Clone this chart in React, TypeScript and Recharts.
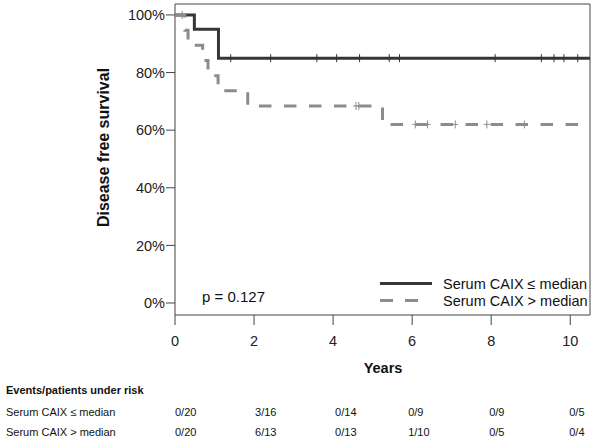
import React from 'react';
import { ComposedChart, Line, Scatter, XAxis, YAxis, ReferenceArea } from 'recharts';

// Kaplan-Meier step data (years, survival fraction)
const lowTimes = [0, 0.49, 1.1, 10.5];
const lowSurv = [1, 0.95, 0.85, 0.85];
const highTimes = [0, 0.25, 0.33, 0.7, 0.835, 1.09, 1.84, 5.25, 10.5];
const highSurv = [1, 0.947, 0.895, 0.842, 0.789, 0.737, 0.684, 0.62, 0.62];

// Censoring marks
const lowCensorTimes = [1.41, 2.42, 3.59, 4.09, 4.67, 5.42, 5.68, 8.1, 9.27, 9.59, 9.84, 10.19];
const lowCensorSurv = [0.85, 0.85, 0.85, 0.85, 0.85, 0.85, 0.85, 0.85, 0.85, 0.85, 0.85, 0.85];
const highCensorTimes = [0.18, 4.58, 4.65, 6.08, 6.39, 7.09, 7.89, 8.84];
const highCensorSurv = [1, 0.684, 0.684, 0.62, 0.62, 0.62, 0.62, 0.62];

const xTicks = [0, 2, 4, 6, 8, 10];
const yTicks = [0, 0.2, 0.4, 0.6, 0.8, 1];
const seriesNames = ['Serum CAIX \u2264 median', 'Serum CAIX > median'];
const riskTimes = [0, 2, 4, 6, 8, 10];
const riskLow = ['0/20', '3/16', '0/14', '0/9', '0/9', '0/5'];
const riskHigh = ['0/20', '6/13', '0/13', '1/10', '0/5', '0/4'];
const pValueText = 'p = 0.127';

const X_DOMAIN: [number, number] = [0, 10.5];
const Y_DOMAIN: [number, number] = [-0.0417, 1.038];

const FF = "'Liberation Sans', Arial, Helvetica, sans-serif";
const DARK = '#363636';
const GRAY = '#8c8c8c';
const AXIS = '#444';

const PLOT_L = 175;
const PLOT_R = 590;
const xPx = (t: number) => PLOT_L + ((t - X_DOMAIN[0]) / (X_DOMAIN[1] - X_DOMAIN[0])) * (PLOT_R - PLOT_L);
// small per-column nudges of the risk table text (layout only)
const riskNudge = [0, 1, 2, -4, -2, -1];

const lowData = lowTimes.map((t, i) => ({ t, s: lowSurv[i] }));
const highData = highTimes.map((t, i) => ({ t, s: highSurv[i] }));
const lowCensor = lowCensorTimes.map((t, i) => ({ t, s: lowCensorSurv[i] }));
const highCensor = highCensorTimes.map((t, i) => ({ t, s: highCensorSurv[i] }));

const makeCross = (color: string) => (props: any) => {
  const { cx, cy } = props;
  if (cx == null || cy == null) return <g />;
  return (
    <g>
      <line x1={cx} x2={cx} y1={cy - 4} y2={cy + 4} stroke={color} strokeWidth={1} />
      <line x1={cx - 3} x2={cx + 3} y1={cy} y2={cy} stroke={color} strokeWidth={1} />
    </g>
  );
};

export default function App() {
  return (
    <div style={{ position: 'absolute', left: 0, top: 0, width: 600, height: 442, background: '#fff', fontFamily: FF }}>
      <ComposedChart width={600} height={442} margin={{ top: 4, right: 10, bottom: 97, left: 115 }}>
        <XAxis
          type="number"
          dataKey="t"
          domain={X_DOMAIN}
          ticks={xTicks}
          allowDataOverflow
          axisLine={false}
          tickLine={{ stroke: AXIS }}
          tickSize={10}
          tickMargin={11}
          height={30}
          tick={{ fill: '#222', fontSize: 14.5, fontFamily: FF }}
        />
        <YAxis
          type="number"
          dataKey="s"
          domain={Y_DOMAIN}
          ticks={yTicks}
          allowDataOverflow
          axisLine={false}
          tickLine={{ stroke: AXIS }}
          tickSize={9}
          tickMargin={1}
          width={60}
          tickFormatter={(v: number) => `${Math.round(v * 100)}%`}
          tick={{ fill: '#222', fontSize: 14.5, fontFamily: FF }}
        />
        <ReferenceArea x1={X_DOMAIN[0]} x2={X_DOMAIN[1]} y1={Y_DOMAIN[0]} y2={Y_DOMAIN[1]} fill="none" fillOpacity={0} stroke={AXIS} strokeWidth={1} ifOverflow="visible" />
        <Line data={lowData} dataKey="s" type="stepAfter" stroke={DARK} strokeWidth={3} dot={false} activeDot={false} isAnimationActive={false} name={seriesNames[0]} />
        <Line data={highData} dataKey="s" type="stepAfter" stroke={GRAY} strokeWidth={3} strokeDasharray="12.5 12.5" strokeLinecap="butt" dot={false} activeDot={false} isAnimationActive={false} name={seriesNames[1]} />
        <Scatter data={lowCensor} dataKey="s" shape={makeCross(DARK)} isAnimationActive={false} />
        <Scatter data={highCensor} dataKey="s" shape={makeCross(GRAY)} isAnimationActive={false} />
      </ComposedChart>
      <svg width={600} height={442} style={{ position: 'absolute', left: 0, top: 0, pointerEvents: 'none' }} fontFamily={FF}>
        <text x={103} y={147.5} transform="rotate(-90 103 147.5)" textAnchor="middle" dominantBaseline="central" fontSize={16} fontWeight="bold" fill="#111">Disease free survival</text>
        <text x={383} y={368} textAnchor="middle" dominantBaseline="central" fontSize={14.5} fontWeight="bold" fill="#111">Years</text>
        <text x={202} y={296} dominantBaseline="central" fontSize={15} fill="#111">{pValueText}</text>
        {/* legend */}
        <line x1={380} x2={432} y1={283.5} y2={283.5} stroke={DARK} strokeWidth={3} />
        <line x1={380} x2={418} y1={300.5} y2={300.5} stroke={GRAY} strokeWidth={3} strokeDasharray="13 12" />
        <text x={443} y={283.5} dominantBaseline="central" fontSize={14.5} fill="#111">{seriesNames[0]}</text>
        <text x={443} y={300.5} dominantBaseline="central" fontSize={14.5} fill="#111">{seriesNames[1]}</text>
        {/* risk table */}
        <text x={6} y={390} dominantBaseline="central" fontSize={11} fontWeight="bold" fill="#111">Events/patients under risk</text>
        <text x={6} y={412} dominantBaseline="central" fontSize={11} fill="#111">{seriesNames[0]}</text>
        <text x={6} y={431.5} dominantBaseline="central" fontSize={11} fill="#111">{seriesNames[1]}</text>
        {riskTimes.map((t, i) => (
          <text key={'l' + i} x={xPx(t) + riskNudge[i]} y={412} dominantBaseline="central" fontSize={11} fill="#111">{riskLow[i]}</text>
        ))}
        {riskTimes.map((t, i) => (
          <text key={'h' + i} x={xPx(t) + riskNudge[i]} y={431.5} dominantBaseline="central" fontSize={11} fill="#111">{riskHigh[i]}</text>
        ))}
      </svg>
    </div>
  );
}
